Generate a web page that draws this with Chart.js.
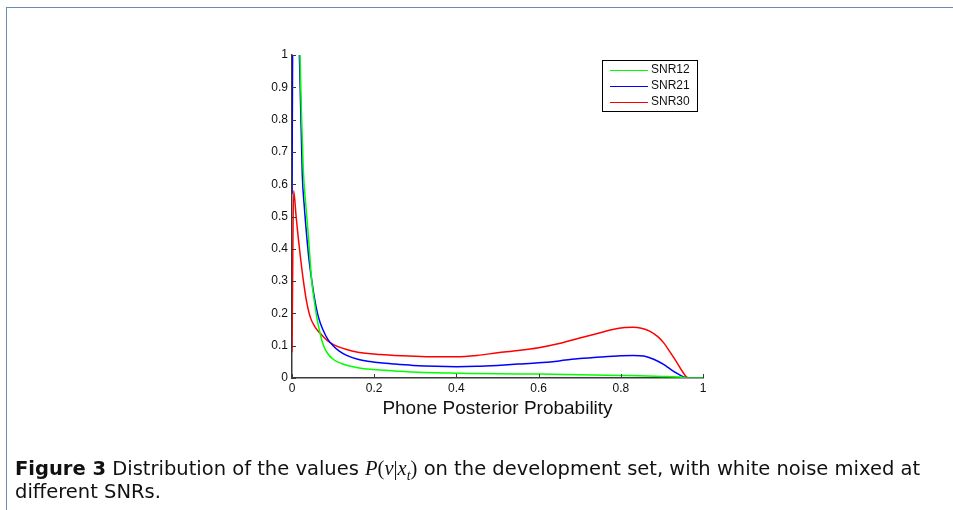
<!DOCTYPE html>
<html lang="en">
<head>
<meta charset="UTF-8"/>
<title>Figure 3</title>
<script src="https://cdn.jsdelivr.net/npm/chart.js"></script>
<style>
  html, body { margin:0; padding:0; background:#fff; }
  body { width:953px; height:510px; position:relative; overflow:hidden; }
  .frame {
    position:absolute; left:6px; top:7px; width:1000px; height:600px;
    border-top:1px solid #6a8cb3; border-left:1px solid #6a8cb3;
  }
  #chart { position:absolute; left:0; top:0; }
  .caption {
    position:absolute; left:15px; top:457px; width:935px; white-space:nowrap;
    font-family:'DejaVu Sans',sans-serif;
    font-size:19.5px; line-height:23px; color:#111;
  }
  .caption b { font-weight:bold; }
  .caption .m { font-family:'Liberation Serif','DejaVu Serif',serif; font-size:20.5px; }
  .caption sub { font-size:14px; line-height:0; }
</style>
</head>
<body>
<div class="frame"></div>
<canvas id="chart" width="953" height="510"></canvas>
<div class="caption"><b>Figure 3</b> Distribution of the values <span class="m"><i>P</i>(<i>v</i>|<i>x</i><sub><i>t</i></sub>)</span> on the development set, with white noise mixed at<br>different SNRs.</div>

<script>
// ---- data ----
const seriesLabels = ['SNR12', 'SNR21', 'SNR30'];
const seriesColors = ['#00ff00', '#0000ff', '#ff0000'];

const snr12X = [0, 0.016, 0.0195, 0.0235, 0.0275, 0.034, 0.04, 0.048, 0.054, 0.06, 0.068, 0.076, 0.085, 0.1,
  0.12, 0.14, 0.16, 0.19, 0.214, 0.25, 0.295, 0.35, 0.4, 0.5, 0.6, 0.7, 0.8, 0.9, 0.95, 0.96, 1];
const snr12Y = [1.3, 1.3, 1.0, 0.8, 0.644, 0.53, 0.437, 0.30, 0.24, 0.19, 0.14, 0.103, 0.079, 0.058,
  0.045, 0.037, 0.032, 0.027, 0.025, 0.022, 0.0185, 0.016, 0.015, 0.013, 0.012, 0.010, 0.008, 0.005, 0.002, 0, 0];

const snr21X = [0, 0.003, 0.014, 0.018, 0.025, 0.03, 0.036, 0.042, 0.048, 0.055, 0.064, 0.075, 0.088, 0.1,
  0.115, 0.133, 0.16, 0.19, 0.214, 0.25, 0.295, 0.35, 0.4, 0.45, 0.5, 0.55, 0.6, 0.65, 0.7, 0.75, 0.8, 0.83,
  0.856, 0.88, 0.904, 0.92, 0.937, 0.95, 0.96, 1];
const snr21Y = [0.57, 1.3, 1.3, 1.0, 0.63, 0.53, 0.437, 0.36, 0.303, 0.245, 0.19, 0.15, 0.118, 0.1,
  0.083, 0.07, 0.058, 0.051, 0.047, 0.043, 0.039, 0.036, 0.035, 0.036, 0.039, 0.043, 0.047, 0.053, 0.06, 0.065, 0.069, 0.07,
  0.068, 0.058, 0.042, 0.028, 0.014, 0.005, 0, 0];

const snr30X = [0, 0.004, 0.01, 0.015, 0.02, 0.0275, 0.035, 0.044, 0.055, 0.068, 0.085, 0.1, 0.133, 0.16,
  0.214, 0.27, 0.336, 0.4, 0.45, 0.5, 0.55, 0.6, 0.65, 0.7, 0.75, 0.78, 0.81, 0.83, 0.85, 0.87, 0.89,
  0.905, 0.92, 0.937, 0.95, 0.96, 0.97, 1];
const snr30Y = [0.08, 0.58, 0.50, 0.437, 0.38, 0.303, 0.24, 0.19, 0.16, 0.139, 0.117, 0.104, 0.088, 0.08,
  0.073, 0.069, 0.066, 0.066, 0.07, 0.078, 0.085, 0.094, 0.107, 0.124, 0.14, 0.15, 0.156, 0.157, 0.154, 0.145, 0.128,
  0.108, 0.08, 0.047, 0.02, 0.003, 0, 0];

const xTicks = [0, 0.2, 0.4, 0.6, 0.8, 1];
const yTicks = [0, 0.1, 0.2, 0.3, 0.4, 0.5, 0.6, 0.7, 0.8, 0.9, 1];
const xTitle = 'Phone Posterior Probability';

// ---- build datasets ----
function pts(xs, ys) { return xs.map((x, i) => ({x: x, y: ys[i]})); }
const allX = [snr12X, snr21X, snr30X];
const allY = [snr12Y, snr21Y, snr30Y];
const datasets = seriesLabels.map((lab, i) => ({
  label: lab,
  data: pts(allX[i], allY[i]),
  borderColor: seriesColors[i],
  borderWidth: 1.5,
  pointRadius: 0,
  cubicInterpolationMode: 'monotone',
  fill: false,
  clip: 0
}));

const AXIS = '#3a3a3a';
const FONT = "'Liberation Sans', Arial, sans-serif";

// inward MATLAB-style tick marks
const innerTicks = {
  id: 'innerTicks',
  afterDatasetsDraw(chart) {
    const ctx = chart.ctx, xs = chart.scales.x, ys = chart.scales.y, a = chart.chartArea;
    ctx.save();
    ctx.strokeStyle = AXIS;
    ctx.lineWidth = 1;
    ctx.beginPath();
    yTicks.forEach(v => {
      const py = Math.round(ys.getPixelForValue(v)) + 0.5;
      ctx.moveTo(a.left, py); ctx.lineTo(a.left + 4, py);
    });
    xTicks.forEach(v => {
      const px = Math.round(xs.getPixelForValue(v)) + 0.5;
      ctx.moveTo(px, a.bottom); ctx.lineTo(px, a.bottom - 4);
    });
    ctx.stroke();
    ctx.restore();
  }
};

// boxed legend in the top right of the axes
const boxLegend = {
  id: 'boxLegend',
  afterDraw(chart) {
    const ctx = chart.ctx;
    const left = 602, top = 60, w = 95, rowH = 16;
    const h = rowH * chart.data.datasets.length + 3;
    ctx.save();
    ctx.fillStyle = '#fff';
    ctx.fillRect(left, top, w, h);
    ctx.strokeStyle = '#000';
    ctx.lineWidth = 1;
    ctx.strokeRect(left + 0.5, top + 0.5, w, h);
    ctx.font = '12px ' + FONT;
    ctx.textBaseline = 'middle';
    chart.data.datasets.forEach((ds, i) => {
      const y = top + 10 + i * rowH;
      ctx.strokeStyle = ds.borderColor;
      ctx.lineWidth = 1;
      ctx.beginPath();
      ctx.moveTo(left + 8, y + 0.5); ctx.lineTo(left + 46, y + 0.5);
      ctx.stroke();
      ctx.fillStyle = '#111';
      ctx.fillText(ds.label, left + 49, y);
    });
    ctx.restore();
  }
};

new Chart(document.getElementById('chart'), {
  type: 'line',
  data: { datasets: datasets },
  options: {
    responsive: false,
    animation: false,
    layout: { padding: { left: 252, right: 250, top: 55, bottom: 90 } },
    plugins: { legend: { display: false }, tooltip: { enabled: false } },
    scales: {
      x: {
        type: 'linear', min: 0, max: 1,
        afterBuildTicks: s => { s.ticks = xTicks.map(v => ({value: v})); },
        afterFit: s => { s.height = 42; },
        ticks: { callback: v => String(v), color: '#111', font: {family: FONT, size: 12}, padding: 3, maxRotation: 0 },
        grid: { display: true, drawOnChartArea: false, drawTicks: false },
        border: { display: true, color: AXIS, width: 1.5 },
        title: { display: true, text: xTitle, color: '#111', font: {family: FONT, size: 19}, padding: {top: 0, bottom: 0} }
      },
      y: {
        type: 'linear', min: 0, max: 1,
        afterBuildTicks: s => { s.ticks = yTicks.map(v => ({value: v})); },
        afterFit: s => { s.width = 40; },
        ticks: { callback: v => String(v), color: '#111', font: {family: FONT, size: 12}, padding: 4 },
        grid: { display: true, drawOnChartArea: false, drawTicks: false },
        border: { display: true, color: AXIS, width: 1.5 }
      }
    }
  },
  plugins: [innerTicks, boxLegend]
});
</script>
</body>
</html>
